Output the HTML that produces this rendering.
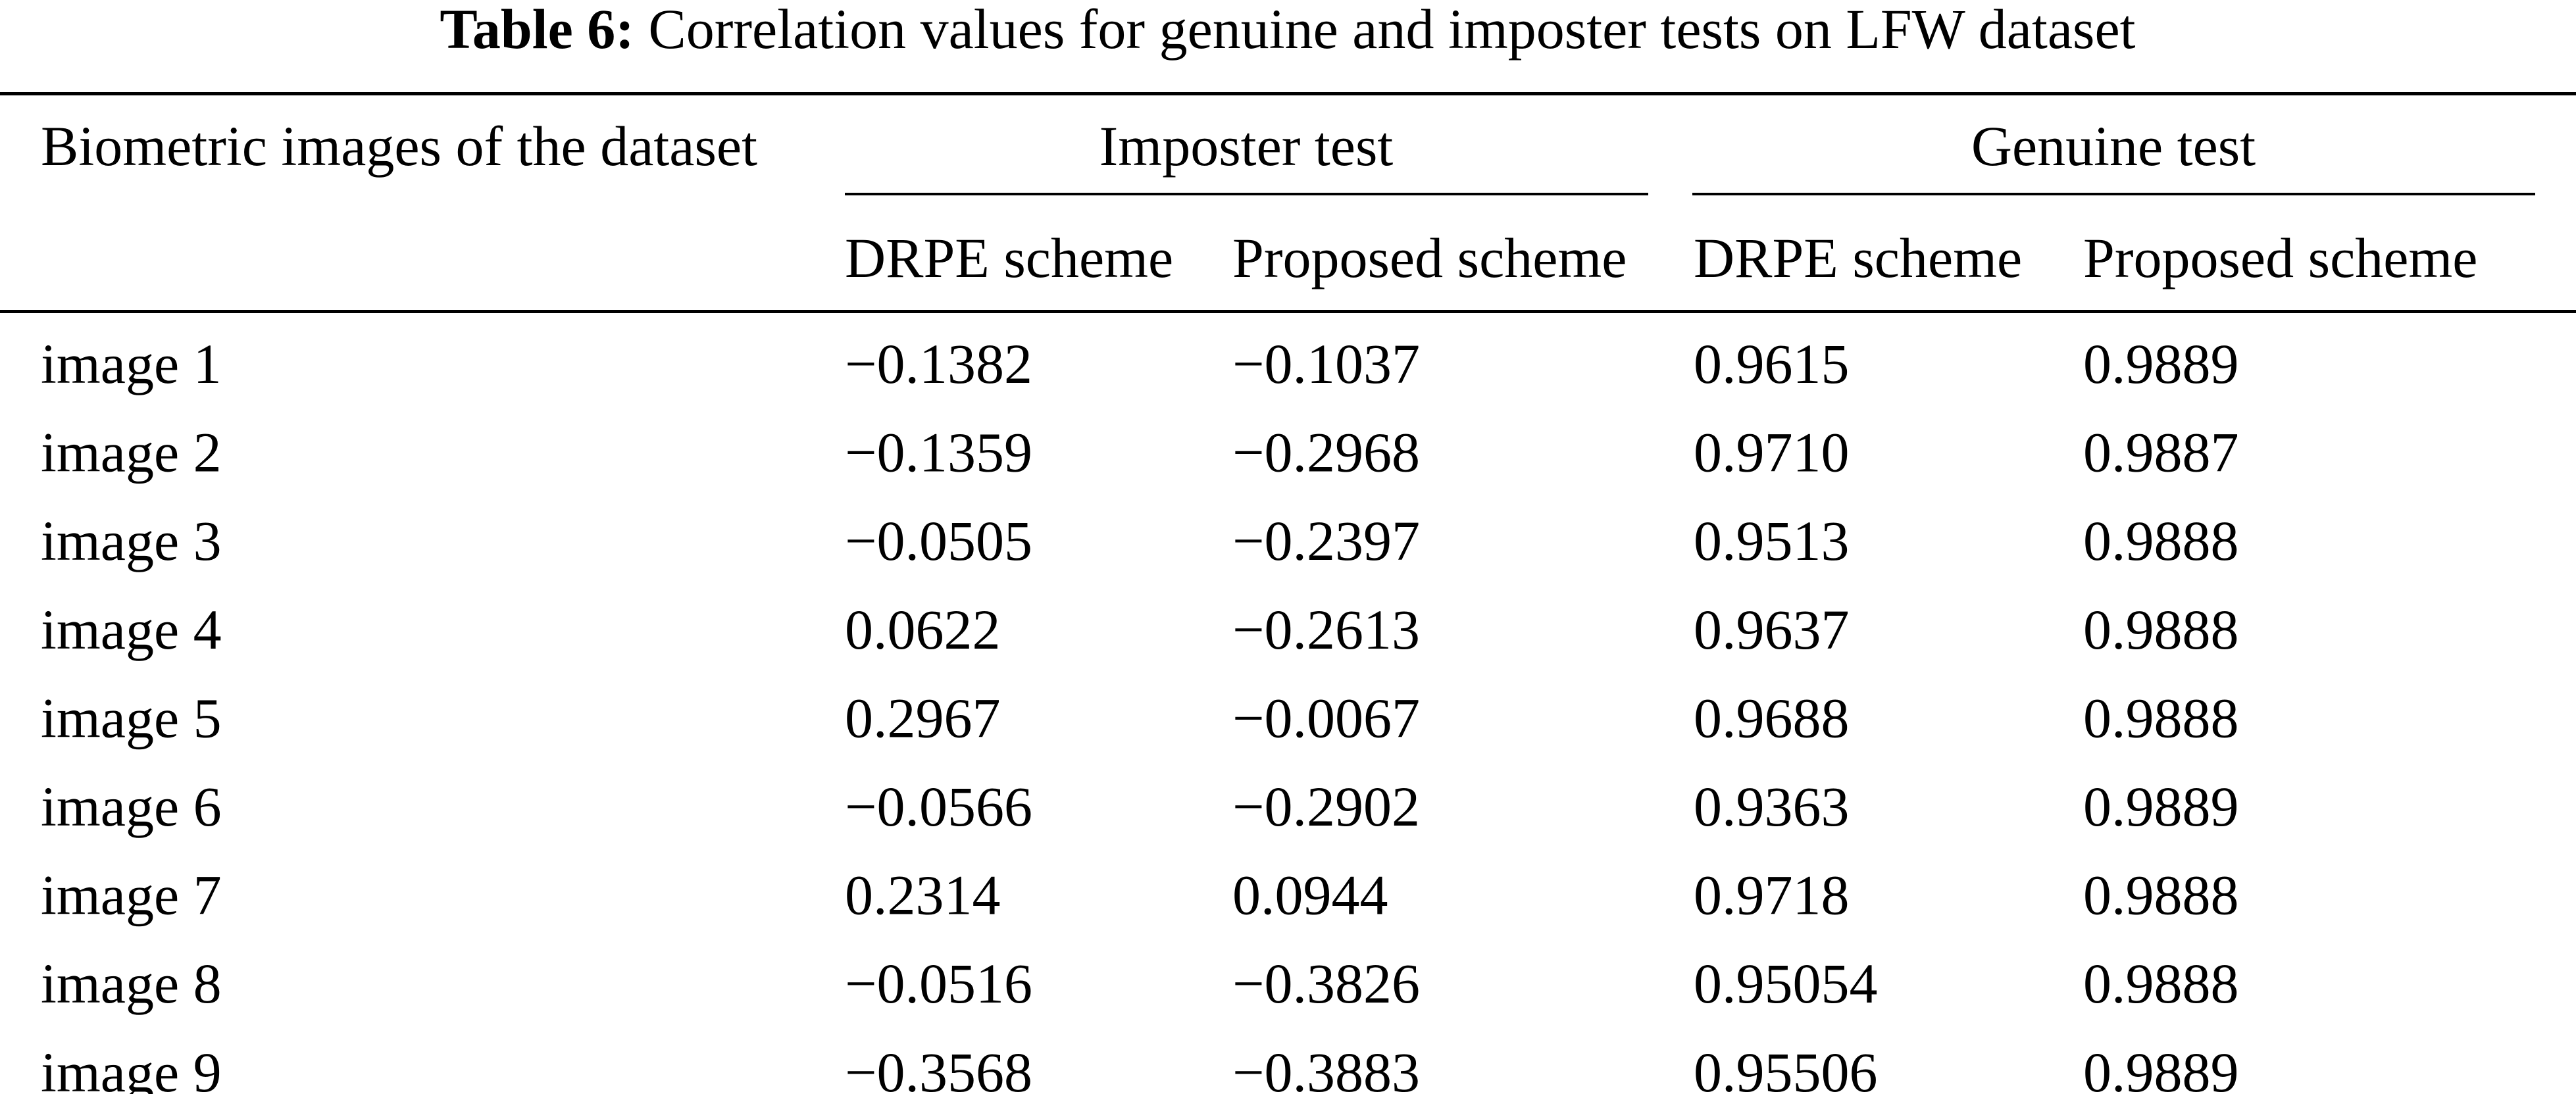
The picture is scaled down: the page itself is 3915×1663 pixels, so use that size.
<!DOCTYPE html>
<html><head><meta charset="utf-8"><style>
html,body{margin:0;padding:0;background:#fff;width:3915px;height:1663px;overflow:hidden}
svg{display:block}
text{font-family:"Liberation Serif",serif;font-size:86px;fill:#000}
</style></head><body>
<svg id="t" width="3915" height="1663" viewBox="0 0 3915 1663" xmlns="http://www.w3.org/2000/svg">
<text x="1957" y="73" text-anchor="middle"><tspan font-weight="bold">Table 6:</tspan>  Correlation values for genuine and imposter tests on LFW dataset</text>
<rect x="0" y="140" width="3915" height="5"/>
<text x="62" y="251">Biometric images of the dataset</text>
<text x="1894" y="251" text-anchor="middle">Imposter test</text>
<text x="3212" y="251" text-anchor="middle">Genuine test</text>
<rect x="1284" y="293" width="1221" height="4"/>
<rect x="2572" y="293" width="1281" height="4"/>
<text x="1284" y="421">DRPE scheme</text>
<text x="1873" y="421">Proposed scheme</text>
<text x="2574" y="421">DRPE scheme</text>
<text x="3166" y="421">Proposed scheme</text>
<rect x="0" y="471" width="3915" height="5"/>
<g id="rows"></g>
</svg>
<script>
const images = ["image 1","image 2","image 3","image 4","image 5","image 6","image 7","image 8","image 9"];
const imposterDrpe = ["\u22120.1382","\u22120.1359","\u22120.0505","0.0622","0.2967","\u22120.0566","0.2314","\u22120.0516","\u22120.3568"];
const imposterProposed = ["\u22120.1037","\u22120.2968","\u22120.2397","\u22120.2613","\u22120.0067","\u22120.2902","0.0944","\u22120.3826","\u22120.3883"];
const genuineDrpe = ["0.9615","0.9710","0.9513","0.9637","0.9688","0.9363","0.9718","0.95054","0.95506"];
const genuineProposed = ["0.9889","0.9887","0.9888","0.9888","0.9888","0.9889","0.9888","0.9888","0.9889"];
const NS = "http://www.w3.org/2000/svg";
const g = document.getElementById("rows");
const cols = [
  {arr: images, x: 62, name: "row-label"},
  {arr: imposterDrpe, x: 1284, name: "imposter-drpe-value"},
  {arr: imposterProposed, x: 1873, name: "imposter-proposed-value"},
  {arr: genuineDrpe, x: 2574, name: "genuine-drpe-value"},
  {arr: genuineProposed, x: 3166, name: "genuine-proposed-value"}
];
function rowY(i){ return 582 + i * 134.6; }
images.forEach((_, i) => {
  cols.forEach(c => {
    const t = document.createElementNS(NS, "text");
    
    
    t.setAttribute("x", c.x);
    t.setAttribute("y", rowY(i));
    t.textContent = c.arr[i];
    g.appendChild(t);
  });
});
</script>
</body></html>
